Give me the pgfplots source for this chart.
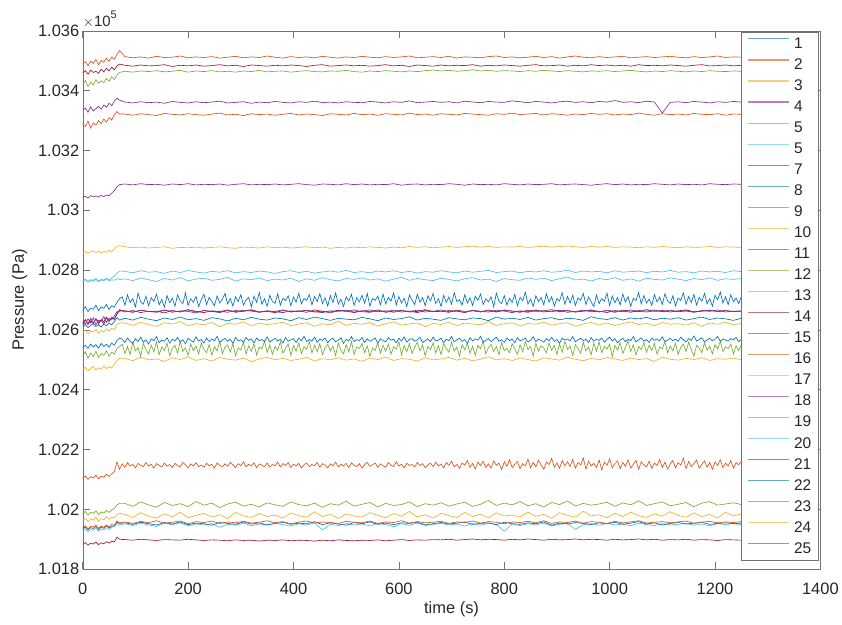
\documentclass[border=0pt]{standalone}
\usepackage{pgfplots}
\usepackage{pgfplotstable}
\pgfplotsset{compat=1.18}
\usepackage{fontspec}
\setmainfont{Liberation Sans}
\definecolor{mblue}{rgb}{0,0.447,0.741}
\definecolor{morange}{rgb}{0.850,0.325,0.098}
\definecolor{myellow}{rgb}{0.929,0.694,0.125}
\definecolor{mpurple}{rgb}{0.494,0.184,0.556}
\definecolor{mgreen}{rgb}{0.466,0.674,0.188}
\definecolor{mlblue}{rgb}{0.301,0.745,0.933}
\definecolor{mred}{rgb}{0.635,0.078,0.184}
\definecolor{axgray}{rgb}{0.15,0.15,0.15}
% quieter sensors, sampled every 15 s after the start-up phase (Pa)
\pgfplotstableread{
name 0 5 10 15 20 25 30 35 40 45 50 55 60 65 70 80 95 110 125 140 155 170 185 200 215 230 245 260 275 290 305 320 335 350 365 380 395 410 425 440 455 470 485 500 515 530 545 560 575 590 605 620 635 650 665 680 695 710 725 740 755 770 785 800 815 830 845 860 875 890 905 920 935 950 965 980 995 1010 1025 1040 1055 1070 1085 1100 1115 1130 1145 1160 1175 1190 1205 1220 1235 1250
s2 103489 103497 103483 103499 103491 103504 103487 103501 103495 103509 103498 103513 103505 103521 103534 103514 103510 103513 103509 103515 103511 103512 103516 103510 103513 103511 103514 103509 103512 103515 103510 103513 103511 103516 103512 103509 103514 103511 103513 103510 103515 103512 103509 103513 103511 103515 103512 103510 103514 103511 103513 103516 103510 103512 103514 103511 103515 103509 103513 103512 103510 103514 103516 103511 103513 103510 103512 103515 103511 103514 103509 103513 103516 103512 103510 103514 103511 103513 103515 103510 103512 103514 103511 103513 103515 103512 103510 103514 103511 103513 103516 103511 103513 103512
s3 102858 102862 102856 102861 102864 102859 102863 102857 102862 102860 102866 102862 102870 102880 102882 102878 102875 102877 102874 102876 102878 102873 102876 102875 102877 102874 102876 102878 102875 102873 102877 102876 102874 102878 102875 102877 102874 102876 102878 102875 102877 102873 102876 102874 102877 102875 102878 102876 102874 102877 102875 102879 102876 102878 102875 102877 102879 102876 102878 102880 102877 102879 102876 102878 102877 102879 102876 102878 102880 102877 102879 102881 102878 102876 102879 102877 102879 102876 102878 102877 102875 102878 102876 102879 102877 102875 102878 102876 102877 102879 102876 102878 102877 102876
s4 103335 103342 103328 103346 103332 103340 103348 103338 103352 103345 103358 103350 103365 103375 103368 103362 103359 103363 103360 103362 103358 103364 103361 103359 103363 103360 103362 103365 103359 103361 103363 103358 103362 103360 103364 103361 103359 103363 103361 103365 103360 103362 103359 103363 103361 103360 103364 103362 103359 103363 103361 103366 103360 103362 103364 103361 103363 103359 103365 103362 103360 103364 103362 103361 103366 103363 103360 103364 103362 103359 103363 103365 103361 103363 103360 103364 103362 103367 103361 103363 103360 103365 103362 103325 103361 103363 103360 103364 103362 103359 103363 103361 103364 103362
s5 103421 103434 103414 103429 103419 103437 103425 103433 103427 103441 103431 103447 103437 103453 103461 103465 103462 103466 103464 103467 103463 103465 103468 103462 103466 103464 103467 103463 103465 103462 103466 103464 103468 103463 103465 103466 103462 103465 103467 103464 103463 103466 103465 103468 103464 103462 103466 103464 103467 103465 103463 103466 103464 103467 103469 103466 103468 103465 103467 103470 103466 103468 103465 103467 103466 103464 103467 103465 103468 103466 103464 103467 103465 103463 103466 103465 103467 103464 103466 103468 103465 103463 103466 103464 103467 103465 103463 103466 103464 103467 103465 103464 103466 103465
s6 102764 102770 102762 102768 102766 102772 102763 102769 102767 102773 102768 102774 102780 102790 102797 102796 102791 102798 102793 102795 102789 102797 102792 102799 102794 102790 102796 102793 102798 102791 102795 102792 102797 102794 102789 102795 102798 102792 102796 102790 102794 102797 102793 102799 102792 102795 102791 102797 102794 102798 102792 102796 102790 102795 102793 102798 102794 102791 102797 102793 102796 102799 102792 102795 102797 102791 102796 102794 102798 102793 102795 102800 102792 102797 102794 102796 102791 102798 102793 102795 102797 102792 102796 102794 102799 102793 102795 102791 102797 102794 102796 102792 102798 102795
s7 103459 103467 103455 103469 103461 103465 103458 103472 103463 103475 103466 103479 103470 103483 103489 103485 103482 103486 103483 103484 103487 103481 103485 103483 103486 103482 103484 103487 103483 103485 103481 103486 103484 103482 103485 103483 103486 103484 103481 103485 103487 103482 103484 103486 103483 103485 103482 103484 103487 103483 103485 103481 103486 103484 103482 103486 103483 103485 103484 103487 103482 103485 103483 103486 103484 103482 103485 103487 103483 103484 103486 103482 103485 103483 103487 103484 103486 103483 103485 103482 103487 103484 103485 103483 103486 103484 103482 103485 103487 103483 103484 103486 103483 103485
s8 102611 102618 102608 102615 102621 102612 102617 102610 102619 102614 102623 102617 102628 102641 102633 102639 102633 102642 102636 102631 102640 102635 102643 102634 102638 102632 102641 102637 102630 102639 102634 102642 102636 102633 102640 102637 102631 102641 102635 102643 102638 102632 102639 102636 102634 102642 102637 102631 102640 102635 102638 102644 102633 102639 102636 102632 102641 102637 102634 102640 102638 102631 102643 102636 102639 102635 102642 102633 102638 102641 102634 102639 102637 102632 102644 102638 102635 102641 102633 102640 102637 102642 102634 102639 102636 102641 102633 102638 102643 102635 102640 102637 102632 102639
s9 103288 103280 103298 103275 103292 103285 103300 103290 103305 103295 103310 103302 103320 103330 103322 103322 103318 103323 103320 103317 103324 103321 103319 103323 103320 103318 103322 103325 103319 103321 103317 103323 103320 103322 103318 103321 103324 103319 103322 103320 103317 103323 103321 103319 103324 103320 103322 103318 103323 103321 103319 103325 103320 103322 103318 103323 103321 103319 103324 103322 103320 103318 103323 103321 103325 103320 103322 103324 103319 103323 103321 103318 103322 103320 103324 103321 103323 103319 103322 103320 103325 103321 103318 103323 103320 103322 103319 103324 103321 103320 103323 103318 103322 103321
s10 102591 102599 102587 102596 102593 102602 102589 102598 102594 102603 102596 102605 102601 102618 102623 102623 102615 102626 102618 102612 102624 102620 102628 102614 102621 102617 102625 102611 102622 102619 102627 102613 102623 102618 102621 102626 102614 102620 102624 102612 102621 102617 102629 102615 102622 102619 102625 102613 102621 102627 102616 102620 102623 102611 102622 102618 102626 102614 102623 102620 102617 102628 102615 102621 102624 102613 102622 102619 102626 102616 102621 102624 102612 102620 102625 102617 102623 102615 102621 102627 102618 102622 102614 102625 102619 102621 102616 102624 102612 102623 102619 102626 102617 102622
s11 103043 103047 103041 103049 103045 103048 103044 103050 103046 103051 103049 103057 103066 103079 103086 103088 103085 103089 103086 103087 103084 103088 103086 103089 103085 103087 103086 103088 103084 103087 103089 103085 103087 103086 103088 103085 103087 103089 103086 103084 103088 103087 103085 103089 103086 103088 103085 103087 103086 103089 103084 103087 103088 103085 103087 103086 103089 103087 103084 103088 103086 103087 103085 103089 103087 103085 103088 103086 103087 103089 103085 103087 103088 103086 103084 103087 103089 103086 103088 103085 103087 103086 103089 103087 103085 103088 103086 103087 103085 103089 103087 103086 103088 103087
s13 102762 102768 102760 102766 102763 102769 102761 102767 102765 102771 102764 102768 102766 102772 102768 102771 102765 102774 102768 102762 102772 102767 102775 102764 102770 102773 102766 102769 102776 102763 102771 102768 102774 102765 102770 102767 102773 102762 102771 102766 102775 102768 102764 102772 102769 102774 102767 102771 102763 102770 102776 102766 102772 102768 102765 102773 102769 102764 102771 102775 102767 102770 102762 102772 102768 102766 102774 102769 102773 102765 102771 102777 102767 102770 102764 102772 102768 102775 102766 102771 102763 102773 102769 102767 102774 102770 102765 102772 102768 102774 102766 102771 102769 102772
s14 102623 102635 102618 102631 102621 102638 102625 102633 102620 102641 102628 102643 102635 102653 102665 102664 102659 102666 102661 102663 102657 102665 102660 102668 102662 102658 102664 102661 102667 102659 102663 102666 102660 102662 102658 102665 102661 102664 102659 102667 102662 102660 102666 102663 102658 102664 102661 102667 102659 102663 102665 102660 102662 102668 102661 102663 102659 102666 102662 102664 102660 102667 102661 102665 102663 102659 102666 102662 102664 102668 102661 102665 102660 102663 102667 102661 102664 102659 102666 102663 102661 102668 102662 102665 102660 102664 102667 102661 102663 102666 102662 102665 102661 102664
s17 102467 102475 102463 102472 102478 102466 102473 102469 102479 102471 102477 102473 102485 102498 102505 102505 102497 102509 102500 102503 102495 102507 102501 102510 102498 102504 102496 102508 102502 102499 102506 102494 102503 102509 102500 102505 102498 102502 102508 102496 102504 102500 102507 102499 102503 102495 102506 102501 102509 102498 102504 102502 102496 102507 102500 102503 102508 102499 102505 102497 102502 102510 102500 102504 102498 102506 102501 102496 102507 102503 102499 102509 102502 102497 102505 102500 102508 102503 102498 102506 102501 102504 102495 102509 102502 102499 102505 102501 102507 102498 102504 102502 102506 102500
s18 102615 102633 102621 102639 102623 102637 102619 102635 102627 102643 102631 102641 102638 102655 102668 102660 102665 102658 102663 102661 102667 102659 102664 102662 102657 102666 102661 102663 102659 102665 102662 102668 102660 102663 102661 102658 102664 102661 102666 102660 102663 102657 102665 102662 102667 102661 102659 102664 102662 102666 102660 102663 102658 102665 102662 102667 102661 102663 102659 102665 102662 102660 102666 102663 102658 102664 102661 102667 102660 102663 102665 102659 102662 102666 102661 102663 102658 102665 102661 102667 102662 102660 102664 102662 102666 102661 102663 102659 102665 102662 102667 102660 102663 102662
s19 101985 101993 101981 101990 101987 101995 101983 101991 101988 101996 101990 101998 102003 102015 102020 102020 102010 102025 102015 102007 102023 102013 102019 102009 102026 102014 102021 102006 102018 102024 102011 102017 102008 102022 102015 102010 102025 102016 102012 102021 102007 102019 102014 102027 102011 102017 102023 102008 102020 102013 102016 102025 102009 102019 102014 102022 102011 102018 102024 102010 102017 102030 102013 102021 102015 102026 102012 102019 102008 102023 102016 102028 102011 102020 102014 102018 102024 102010 102022 102015 102029 102013 102019 102025 102012 102017 102023 102009 102021 102026 102014 102018 102022 102016
s20 101929 101935 101925 101933 101930 101937 101927 101934 101931 101939 101933 101940 101943 101953 101947 101952 101946 101954 101948 101943 101953 101949 101955 101945 101951 101948 101953 101940 101950 101947 101954 101945 101951 101948 101953 101949 101944 101952 101947 101955 101931 101950 101946 101953 101948 101951 101945 101953 101949 101942 101952 101947 101954 101946 101950 101953 101948 101951 101944 101952 101947 101954 101949 101927 101951 101946 101952 101948 101954 101945 101950 101953 101933 101949 101952 101947 101953 101948 101951 101945 101954 101949 101946 101952 101948 101950 101953 101947 101951 101945 101952 101949 101953 101948
s21 101883 101889 101880 101887 101884 101891 101882 101888 101885 101892 101887 101894 101891 101907 101900 101899 101897 101900 101898 101896 101899 101898 101897 101900 101898 101896 101898 101897 101895 101898 101896 101897 101894 101897 101896 101898 101895 101897 101896 101894 101897 101895 101898 101896 101895 101897 101896 101898 101895 101897 101899 101896 101898 101897 101899 101898 101900 101897 101899 101901 101898 101900 101899 101897 101900 101898 101901 101899 101897 101900 101898 101899 101901 101898 101900 101899 101897 101900 101898 101899 101901 101898 101900 101897 101899 101898 101900 101897 101899 101898 101896 101899 101898 101897
s22 101935 101941 101932 101939 101936 101943 101933 101940 101937 101945 101938 101943 101945 101957 101953 101955 101950 101957 101952 101948 101956 101951 101958 101949 101954 101952 101947 101956 101953 101950 101958 101951 101955 101948 101953 101957 101950 101954 101952 101959 101949 101955 101951 101947 101956 101952 101958 101950 101954 101949 101955 101953 101957 101948 101952 101956 101951 101954 101958 101950 101953 101955 101949 101957 101952 101950 101955 101952 101958 101947 101954 101951 101956 101953 101949 101955 101952 101957 101950 101954 101959 101951 101955 101948 101953 101956 101951 101954 101957 101950 101953 101955 101952 101954
s23 101939 101945 101935 101943 101941 101947 101937 101944 101940 101948 101942 101950 101947 101961 101955 101958 101953 101960 101955 101962 101954 101957 101961 101952 101959 101956 101961 101953 101958 101955 101960 101954 101957 101962 101955 101959 101952 101957 101961 101954 101958 101956 101953 101960 101957 101955 101961 101953 101958 101956 101962 101954 101959 101955 101957 101960 101953 101958 101956 101961 101954 101959 101957 101952 101958 101956 101960 101955 101962 101953 101958 101956 101961 101954 101959 101957 101953 101960 101955 101958 101962 101954 101957 101959 101955 101958 101961 101953 101957 101960 101955 101958 101956 101959
s24 101963 101970 101959 101967 101964 101973 101961 101969 101965 101975 101967 101973 101971 101983 101987 101983 101973 101989 101977 101971 101985 101975 101991 101972 101980 101987 101974 101982 101969 101990 101978 101973 101986 101976 101981 101971 101988 101979 101974 101992 101976 101983 101970 101985 101978 101974 101989 101980 101972 101986 101977 101993 101975 101982 101971 101987 101979 101973 101990 101976 101984 101972 101988 101978 101981 101975 101991 101977 101983 101970 101989 101980 101974 101994 101978 101982 101972 101987 101976 101991 101979 101973 101985 101977 101992 101980 101974 101988 101976 101983 101971 101990 101978 101985
s25 102628 102619 102637 102623 102641 102617 102633 102629 102645 102625 102639 102633 102648 102661 102663 102663 102660 102666 102662 102659 102665 102663 102661 102667 102660 102664 102662 102658 102665 102661 102666 102663 102659 102664 102662 102667 102660 102663 102665 102661 102658 102664 102662 102666 102660 102663 102667 102661 102664 102659 102665 102662 102666 102660 102663 102661 102665 102663 102658 102666 102662 102664 102660 102667 102663 102662 102659 102665 102663 102661 102666 102664 102660 102663 102665 102660 102666 102662 102664 102659 102665 102663 102667 102661 102664 102662 102665 102660 102663 102666 102661 102664 102662 102663
}\rawA
% noisier sensors, sampled every 5 s (Pa)
\pgfplotstableread{
name 0 5 10 15 20 25 30 35 40 45 50 55 60 65 70 75 80 85 90 95 100 105 110 115 120 125 130 135 140 145 150 155 160 165 170 175 180 185 190 195 200 205 210 215 220 225 230 235 240 245 250 255 260 265 270 275 280 285 290 295 300 305 310 315 320 325 330 335 340 345 350 355 360 365 370 375 380 385 390 395 400 405 410 415 420 425 430 435 440 445 450 455 460 465 470 475 480 485 490 495 500 505 510 515 520 525 530 535 540 545 550 555 560 565 570 575 580 585 590 595 600 605 610 615 620 625 630 635 640 645 650 655 660 665 670 675 680 685 690 695 700 705 710 715 720 725 730 735 740 745 750 755 760 765 770 775 780 785 790 795 800 805 810 815 820 825 830 835 840 845 850 855 860 865 870 875 880 885 890 895 900 905 910 915 920 925 930 935 940 945 950 955 960 965 970 975 980 985 990 995 1000 1005 1010 1015 1020 1025 1030 1035 1040 1045 1050 1055 1060 1065 1070 1075 1080 1085 1090 1095 1100 1105 1110 1115 1120 1125 1130 1135 1140 1145 1150 1155 1160 1165 1170 1175 1180 1185 1190 1195 1200 1205 1210 1215 1220 1225 1230 1235 1240 1245 1250
s1 102665 102678 102661 102673 102669 102683 102664 102677 102672 102685 102668 102681 102676 102693 102705 102711 102683 102718 102692 102705 102677 102723 102694 102686 102713 102681 102708 102695 102720 102684 102702 102676 102715 102691 102706 102679 102717 102697 102688 102724 102682 102704 102693 102712 102678 102701 102719 102685 102709 102696 102681 102714 102690 102703 102722 102687 102705 102680 102711 102695 102718 102683 102700 102709 102677 102713 102692 102725 102686 102704 102679 102716 102695 102689 102721 102683 102706 102698 102714 102681 102710 102693 102723 102687 102705 102699 102718 102684 102712 102695 102721 102688 102707 102680 102715 102692 102724 102686 102703 102678 102711 102697 102719 102682 102708 102694 102716 102689 102722 102680 102705 102699 102713 102684 102720 102687 102709 102696 102724 102683 102712 102690 102706 102678 102717 102700 102685 102719 102693 102708 102681 102714 102697 102722 102688 102704 102679 102716 102692 102710 102686 102725 102695 102701 102683 102718 102690 102707 102682 102713 102699 102720 102685 102704 102694 102711 102677 102723 102696 102688 102715 102683 102706 102692 102719 102681 102709 102698 102726 102687 102703 102679 102714 102695 102708 102684 102721 102693 102711 102680 102705 102697 102724 102686 102712 102690 102716 102682 102707 102699 102722 102685 102710 102694 102678 102717 102688 102705 102696 102723 102681 102713 102691 102708 102684 102720 102693 102711 102679 102706 102698 102725 102687 102715 102690 102703 102682 102718 102694 102710 102685 102721 102697 102689 102714 102680 102707 102699 102724 102686 102712 102692 102719 102683 102709 102696 102722 102688 102705 102679 102716 102701 102727 102690 102711 102685 102718 102694 102707 102688 102712
s12 102513 102527 102505 102523 102511 102529 102508 102521 102515 102531 102512 102526 102519 102538 102545 102552 102521 102545 102518 102558 102530 102541 102512 102555 102534 102520 102549 102527 102560 102517 102543 102532 102556 102514 102539 102548 102523 102561 102528 102540 102515 102553 102531 102546 102519 102557 102535 102524 102551 102516 102544 102530 102562 102521 102542 102550 102526 102554 102513 102540 102533 102559 102520 102547 102528 102555 102516 102543 102537 102563 102524 102550 102518 102545 102532 102560 102522 102539 102553 102515 102548 102529 102557 102521 102544 102535 102561 102523 102549 102527 102554 102517 102541 102552 102530 102546 102514 102557 102533 102520 102551 102526 102562 102518 102543 102538 102555 102524 102547 102512 102540 102531 102558 102522 102549 102529 102553 102519 102544 102536 102561 102516 102548 102527 102555 102521 102542 102559 102530 102550 102514 102545 102534 102557 102523 102547 102518 102554 102538 102525 102560 102529 102543 102512 102551 102533 102556 102522 102546 102515 102549 102537 102563 102520 102541 102552 102528 102545 102517 102558 102531 102539 102524 102554 102536 102519 102550 102527 102561 102534 102544 102513 102555 102529 102547 102540 102523 102557 102532 102548 102518 102553 102526 102562 102535 102546 102514 102551 102538 102522 102559 102530 102543 102517 102556 102529 102560 102524 102545 102536 102552 102510 102548 102533 102557 102521 102542 102564 102528 102550 102516 102544 102535 102558 102525 102549 102531 102555 102519 102543 102537 102561 102523 102546 102530 102556 102518 102541 102553 102527 102559 102534 102512 102548 102539 102524 102557 102532 102546 102520 102551 102536 102562 102528 102544 102538 102553 102519 102547 102531 102550
s15 102541 102549 102538 102553 102543 102551 102539 102555 102545 102552 102542 102556 102549 102565 102573 102569 102558 102573 102562 102555 102571 102561 102576 102559 102567 102553 102570 102564 102578 102557 102566 102562 102574 102556 102569 102563 102575 102560 102567 102554 102572 102565 102559 102577 102563 102568 102556 102573 102561 102570 102564 102579 102558 102566 102572 102562 102569 102555 102575 102563 102567 102559 102574 102565 102570 102557 102573 102564 102568 102561 102577 102559 102566 102572 102563 102569 102556 102575 102562 102567 102571 102558 102573 102564 102579 102561 102568 102563 102576 102559 102570 102565 102573 102557 102567 102572 102560 102566 102574 102555 102569 102563 102578 102561 102568 102564 102575 102558 102570 102562 102567 102573 102556 102571 102565 102560 102574 102566 102569 102557 102572 102563 102577 102559 102568 102571 102562 102567 102575 102558 102564 102570 102561 102576 102563 102566 102573 102557 102569 102564 102578 102560 102567 102572 102562 102568 102555 102574 102563 102570 102566 102579 102559 102565 102571 102561 102569 102576 102562 102567 102558 102573 102564 102570 102557 102574 102563 102568 102572 102560 102566 102577 102561 102569 102565 102559 102571 102564 102575 102562 102568 102556 102573 102566 102570 102563 102578 102560 102567 102572 102564 102569 102558 102575 102562 102570 102565 102573 102559 102568 102576 102563 102571 102557 102566 102572 102561 102569 102564 102578 102560 102567 102574 102562 102568 102558 102573 102565 102570 102563 102577 102561 102566 102572 102564 102569 102562 102576 102567 102559 102571 102565 102580 102563 102568 102574 102560 102567 102572 102564 102569 102578 102562 102570 102566 102563 102571 102567 102575 102561 102569
s16 102104 102112 102100 102109 102106 102114 102102 102111 102108 102117 102110 102119 102126 102159 102134 102152 102141 102156 102145 102150 102139 102154 102147 102143 102157 102145 102151 102138 102153 102147 102142 102155 102144 102150 102140 102154 102146 102142 102157 102149 102139 102152 102145 102156 102143 102148 102141 102154 102146 102151 102138 102155 102147 102143 102152 102144 102157 102149 102140 102153 102146 102159 102142 102151 102145 102156 102139 102152 102148 102143 102155 102141 102150 102146 102158 102142 102153 102147 102156 102140 102151 102145 102154 102138 102149 102155 102143 102150 102146 102157 102141 102153 102148 102139 102152 102146 102158 102142 102151 102145 102154 102140 102156 102147 102143 102153 102138 102150 102157 102144 102149 102155 102141 102152 102146 102141 102156 102148 102143 102159 102145 102151 102139 102154 102147 102150 102142 102157 102146 102153 102140 102148 102155 102143 102158 102145 102152 102139 102156 102147 102161 102142 102150 102137 102155 102148 102163 102140 102154 102135 102158 102146 102160 102141 102152 102138 102162 102147 102155 102133 102159 102144 102166 102140 102151 102160 102136 102153 102145 102168 102139 102157 102142 102164 102149 102134 102158 102150 102170 102141 102155 102137 102163 102146 102159 102143 102167 102138 102156 102149 102172 102135 102161 102145 102154 102140 102165 102132 102158 102147 102169 102139 102153 102162 102136 102157 102144 102166 102138 102151 102163 102134 102159 102148 102142 102161 102137 102155 102146 102167 102140 102158 102135 102152 102164 102139 102156 102148 102171 102136 102160 102143 102153 102165 102138 102150 102162 102141 102157 102134 102159 102147 102166 102140 102155 102145 102163 102138 102156 102149 102161
}\rawB
\pgfplotstabletranspose[colnames from=name]\pdataA\rawA
\pgfplotstabletranspose[colnames from=name]\pdataB\rawB
\begin{document}
\begin{tikzpicture}
\begin{axis}[
  scale only axis,
  width=740pt, height=540pt,
  xmin=0, xmax=1400, ymin=101800, ymax=103600,
  xtick={0,200,...,1400},
  ytick={101800,102000,...,103600},
  yticklabels={1.018,1.02,1.022,1.024,1.026,1.028,1.03,1.032,1.034,1.036},
  scaled ticks=false,
  /pgf/number format/assume math mode=true,
  /pgf/number format/1000 sep={},
  tick align=inside,
  major tick length=7pt,
  axis line style={draw=black!55},
  tick style={draw=black!55, line width=0.6pt},
  ticklabel style={font=\fontsize{16.5}{19}\selectfont, text=axgray},
  xticklabel style={yshift=-10pt},
  xlabel={time (s)}, ylabel={Pressure (Pa)},
  label style={font=\fontsize{16.5}{19}\selectfont, text=axgray},
  xlabel style={yshift=0pt},
  ylabel style={yshift=4pt},
  every axis plot/.append style={line width=0.65pt},
  legend cell align=left,
  legend style={at={(rel axis cs:0.9973,0.9975)}, anchor=north east,
    draw=black!55, fill=white, inner xsep=6pt, inner ysep=3pt,
    row sep=4.1pt,
    nodes={inner sep=1pt, text height=12pt, text depth=3pt,
      font=\fontsize{15.5}{18}\selectfont, text=axgray},
    /tikz/every odd column/.append style={column sep=3pt}},
  legend image code/.code={\draw[#1, line width=1.1pt, opacity=0.6] (0pt,5pt) -- (42pt,5pt);},
]
\addplot[mblue]   table[x=colnames, y=s1]{\pdataB};
\addplot[morange] table[x=colnames, y=s2]{\pdataA};
\addplot[myellow] table[x=colnames, y=s3]{\pdataA};
\addplot[mpurple] table[x=colnames, y=s4]{\pdataA};
\addplot[mgreen]  table[x=colnames, y=s5]{\pdataA};
\addplot[mlblue]  table[x=colnames, y=s6]{\pdataA};
\addplot[mred]    table[x=colnames, y=s7]{\pdataA};
\addplot[mblue]   table[x=colnames, y=s8]{\pdataA};
\addplot[morange] table[x=colnames, y=s9]{\pdataA};
\addplot[myellow] table[x=colnames, y=s10]{\pdataA};
\addplot[mpurple] table[x=colnames, y=s11]{\pdataA};
\addplot[mgreen]  table[x=colnames, y=s12]{\pdataB};
\addplot[mlblue]  table[x=colnames, y=s13]{\pdataA};
\addplot[mred]    table[x=colnames, y=s14]{\pdataA};
\addplot[mblue]   table[x=colnames, y=s15]{\pdataB};
\addplot[morange] table[x=colnames, y=s16]{\pdataB};
\addplot[myellow] table[x=colnames, y=s17]{\pdataA};
\addplot[mpurple] table[x=colnames, y=s18]{\pdataA};
\addplot[mgreen]  table[x=colnames, y=s19]{\pdataA};
\addplot[mlblue]  table[x=colnames, y=s20]{\pdataA};
\addplot[mred]    table[x=colnames, y=s21]{\pdataA};
\addplot[mblue]   table[x=colnames, y=s22]{\pdataA};
\addplot[morange] table[x=colnames, y=s23]{\pdataA};
\addplot[myellow] table[x=colnames, y=s24]{\pdataA};
\addplot[mpurple] table[x=colnames, y=s25]{\pdataA};
\legend{1,2,3,4,5,5,7,8,9,10,11,12,13,14,15,16,17,18,19,20,21,22,23,24,25}
\end{axis}
\node[anchor=south west, font=\fontsize{15}{17}\selectfont, text=axgray, inner sep=0pt]
  at ([yshift=3pt]current axis.north west) {$\times$10\raisebox{0.55em}{\fontsize{11}{13}\selectfont 5}};
\path ([shift={(-83pt,-55pt)}]current axis.south west) rectangle ([shift={(19pt,31pt)}]current axis.north east);
\end{tikzpicture}
\end{document}
